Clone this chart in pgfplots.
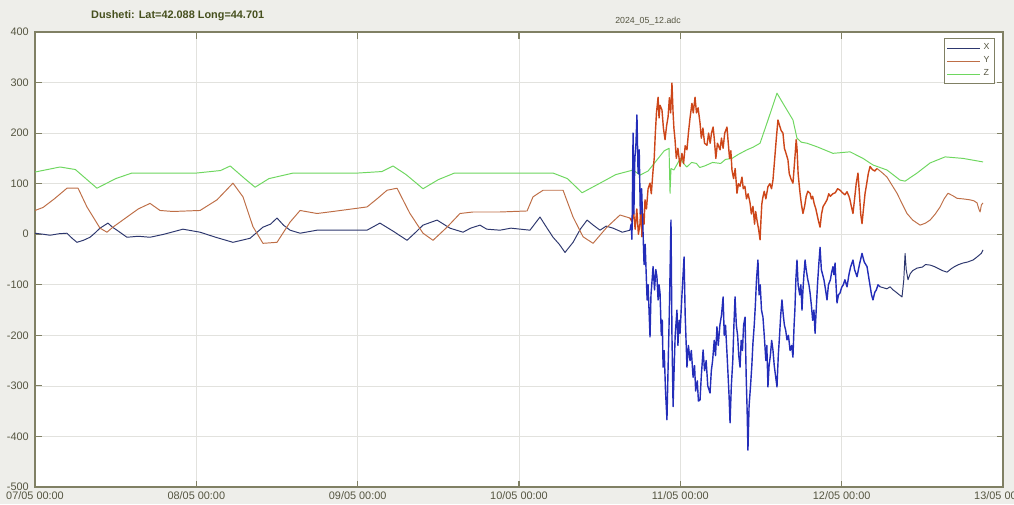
\documentclass[border=0pt]{standalone}
\usepackage{pgfplots}
\pgfplotsset{compat=1.18}
\usepackage{fontspec}
\setmainfont{Liberation Sans}
\definecolor{bgc}{RGB}{238,238,234}
\definecolor{axc}{RGB}{128,128,100}
\definecolor{txc}{RGB}{85,85,65}
\definecolor{gridc}{RGB}{226,226,222}
\definecolor{cx}{RGB}{45,55,110}
\definecolor{cxs}{RGB}{35,45,185}
\definecolor{cy}{RGB}{190,110,70}
\definecolor{cys}{RGB}{205,70,25}
\definecolor{cz}{RGB}{110,215,95}
\begin{document}
\begin{tikzpicture}[x=1mm,y=1mm]
\fill[bgc] (0,0) rectangle (202.8,100.8);
\path[use as bounding box] (0,0) rectangle (202.8,100.8);
\begin{axis}[at={(7mm,3.4mm)}, anchor=south west, scale only axis,
  width=193.6mm, height=91mm,
  xmin=0, xmax=6, ymin=-500, ymax=400,
  xtick={0,1,2,3,4,5,6},
  xticklabels={07/05 00:00,08/05 00:00,09/05 00:00,10/05 00:00,11/05 00:00,12/05 00:00,13/05 00:00},
  ytick={-500,-400,-300,-200,-100,0,100,200,300,400},
  axis background/.style={fill=white},
  axis line style={axc, line width=0.8pt},
  tick style={axc, line width=0.6pt},
  tick align=inside, major tick length=1.3mm,
  grid=major, major grid style={gridc, line width=0.4pt},
  tick label style={font=\fontsize{6.2}{7}\selectfont, text=txc},
  /pgf/number format/assume math mode=true,
  xticklabel style={yshift=0.3mm},
  legend style={at={(0.992,0.987)}, anchor=north east, draw=axc, line width=0.6pt, fill=white,
    font=\fontsize{5}{5.5}\selectfont, text=txc, inner sep=1pt, row sep=-1.5pt},
  legend cell align=left,
  legend image code/.code={\draw[#1, line width=0.6pt] (0mm,0mm) -- (6.5mm,0mm);},
  every axis plot/.append style={line width=0.55pt, line join=round},
]
% X, quiet part
\addplot[cx] coordinates {
(0,2) (0.05,0) (0.093,-2) (0.15,1) (0.198,2) (0.23,-8) (0.26,-16) (0.30,-12) (0.341,-6) (0.37,2) (0.403,12) (0.452,22) (0.48,14) (0.508,8) (0.570,-6) (0.64,-4) (0.713,-6) (0.80,0) (0.917,10) (1.023,4) (1.12,-6) (1.227,-16) (1.333,-8) (1.413,14) (1.46,20) (1.5,32) (1.54,18) (1.581,8) (1.643,2) (1.748,8) (1.90,8) (2.058,8) (2.138,22) (2.22,6) (2.306,-12) (2.36,4) (2.405,18) (2.492,28) (2.572,12) (2.653,4) (2.70,12) (2.758,18) (2.80,10) (2.882,8) (2.95,12) (3.068,8) (3.13,34) (3.17,14) (3.211,-6) (3.25,-20) (3.285,-36) (3.335,-16) (3.38,10) (3.422,28) (3.46,18) (3.502,8) (3.54,16) (3.583,12) (3.64,4) (3.688,8)
};
\addlegendentry{X}
% Y, quiet part
\addplot[cy] coordinates {
(0,47) (0.05,53) (0.12,70) (0.198,91) (0.267,91) (0.322,54) (0.403,12) (0.446,4) (0.483,14) (0.570,34) (0.64,50) (0.713,61) (0.775,47) (0.855,45) (1.023,47) (1.128,68) (1.227,101) (1.289,74) (1.351,15) (1.413,-18) (1.5,-16) (1.581,24) (1.643,47) (1.748,41) (1.847,45) (2.058,54) (2.12,70) (2.182,87) (2.244,91) (2.324,41) (2.405,2) (2.467,-12) (2.554,14) (2.634,41) (2.715,44) (2.882,44) (3.05,46) (3.087,74) (3.149,87) (3.273,87) (3.335,34) (3.397,-5) (3.459,-18) (3.545,14) (3.626,38) (3.688,32)
};
\addlegendentry{Y}
\addplot[cz] coordinates {
(0,123) (0.155,133) (0.25,128) (0.384,91) (0.5,110) (0.6,121) (1.0,121) (1.15,126) (1.21,135) (1.3,110) (1.364,93) (1.45,110) (1.6,121) (2.0,121) (2.15,124) (2.219,135) (2.3,118) (2.405,90) (2.5,108) (2.6,121) (3.0,121) (3.211,121) (3.3,110) (3.391,82) (3.502,101) (3.6,118) (3.707,127) (3.75,117) (3.80,125) (3.85,145) (3.90,165) (3.93,170) (3.936,81) (3.942,130) (3.96,127) (4.0,150) (4.02,140) (4.04,133) (4.07,142) (4.10,140) (4.12,132) (4.15,135) (4.2,142) (4.25,140) (4.28,148) (4.32,150) (4.36,158) (4.413,167) (4.45,172) (4.494,180) (4.537,220) (4.599,279) (4.636,259) (4.698,226) (4.723,190) (4.75,182) (4.785,180) (4.847,173) (4.946,160) (5.052,163) (5.132,150) (5.194,137) (5.281,127) (5.362,107) (5.393,105) (5.467,121) (5.548,141) (5.641,153) (5.752,150) (5.876,143)
};
\addlegendentry{Z}
% Y, storm part
\addplot[cys, forget plot, line width=0.8pt] coordinates {
(3.688,32) (3.70,25) (3.71,45) (3.72,10) (3.73,50) (3.74,0) (3.75,21) (3.755,60) (3.762,-5) (3.769,40) (3.775,20) (3.781,68) (3.79,50) (3.80,90) (3.812,101) (3.82,80) (3.831,127) (3.838,150) (3.845,200) (3.852,240) (3.862,271) (3.868,230) (3.874,255) (3.886,246) (3.895,210) (3.905,187) (3.915,215) (3.924,232) (3.932,270) (3.94,240) (3.948,299) (3.955,240) (3.96,210) (3.967,187) (3.975,150) (3.985,170) (3.998,134) (4.01,160) (4.02,140) (4.03,175) (4.041,167) (4.05,200) (4.06,230) (4.072,259) (4.08,240) (4.091,271) (4.10,240) (4.11,250) (4.122,220) (4.13,190) (4.14,210) (4.15,180) (4.165,176) (4.175,200) (4.185,180) (4.193,200) (4.203,212) (4.21,190) (4.22,150) (4.23,180) (4.246,167) (4.255,190) (4.265,170) (4.275,200) (4.289,212) (4.297,180) (4.305,150) (4.313,165) (4.320,127) (4.33,110) (4.34,130) (4.351,81) (4.36,100) (4.37,95) (4.382,113) (4.39,90) (4.40,95) (4.41,70) (4.42,80) (4.432,62) (4.44,40) (4.45,55) (4.46,20) (4.467,45) (4.475,28) (4.485,10) (4.494,-11) (4.5,30) (4.505,60) (4.512,74) (4.52,85) (4.53,70) (4.543,94) (4.555,100) (4.565,90) (4.574,107) (4.585,150) (4.595,190) (4.605,226) (4.615,215) (4.625,205) (4.636,200) (4.645,170) (4.655,160) (4.667,147) (4.675,120) (4.685,110) (4.698,101) (4.705,130) (4.712,160) (4.718,187) (4.723,170) (4.73,120) (4.736,100) (4.742,81) (4.75,60) (4.760,41) (4.77,55) (4.78,75) (4.79,85) (4.804,81) (4.812,70) (4.82,75) (4.83,60) (4.84,50) (4.85,35) (4.857,25) (4.866,14) (4.875,40) (4.885,55) (4.895,60) (4.909,68) (4.92,80) (4.93,75) (4.945,80) (4.96,82) (4.975,90) (4.99,87) (5.005,82) (5.02,78) (5.033,84) (5.045,75) (5.05,70) (5.06,55) (5.070,41) (5.08,70) (5.09,100) (5.101,121) (5.11,80) (5.118,40) (5.126,21) (5.135,50) (5.145,81) (5.155,100) (5.165,120) (5.176,134) (5.19,128) (5.205,125) (5.219,130)
};
\addplot[cy, forget plot] coordinates {
(5.219,130) (5.25,122) (5.281,113) (5.31,98) (5.343,81) (5.375,60) (5.405,41) (5.44,28) (5.486,18) (5.52,22) (5.548,28) (5.58,40) (5.610,54) (5.635,70) (5.659,81) (5.69,76) (5.715,71) (5.75,70) (5.796,68) (5.82,66) (5.839,62) (5.85,50) (5.858,44) (5.866,58) (5.876,62)
};
% X, storm part
\addplot[cxs, forget plot, line width=0.8pt] coordinates {
(3.688,8) (3.695,20) (3.70,-10) (3.707,200) (3.712,40) (3.718,150) (3.725,180) (3.731,236) (3.738,120) (3.745,167) (3.752,40) (3.76,90) (3.769,2) (3.775,-60) (3.782,-20) (3.794,-130) (3.80,-100) (3.812,-203) (3.818,-120) (3.825,-90) (3.831,-64) (3.84,-110) (3.848,-70) (3.855,-84) (3.862,-130) (3.868,-100) (3.874,-116) (3.882,-200) (3.888,-170) (3.893,-263) (3.90,-230) (3.908,-310) (3.917,-367) (3.925,-250) (3.932,-150) (3.942,28) (3.948,-200) (3.955,-341) (3.962,-260) (3.968,-200) (3.979,-150) (3.985,-220) (3.992,-170) (3.998,-196) (4.01,-120) (4.023,-45) (4.03,-160) (4.041,-263) (4.05,-220) (4.06,-250) (4.068,-230) (4.079,-283) (4.088,-260) (4.095,-310) (4.105,-290) (4.112,-330) (4.122,-328) (4.13,-280) (4.141,-229) (4.15,-270) (4.16,-250) (4.17,-300) (4.184,-314) (4.192,-270) (4.20,-250) (4.21,-210) (4.218,-240) (4.227,-183) (4.235,-220) (4.245,-180) (4.255,-160) (4.265,-124) (4.272,-200) (4.28,-180) (4.289,-235) (4.296,-280) (4.302,-320) (4.308,-373) (4.316,-300) (4.325,-250) (4.332,-180) (4.339,-124) (4.347,-180) (4.355,-200) (4.362,-240) (4.370,-263) (4.377,-210) (4.385,-230) (4.392,-180) (4.401,-164) (4.408,-280) (4.414,-350) (4.419,-427) (4.426,-340) (4.435,-300) (4.443,-260) (4.450,-215) (4.458,-180) (4.465,-140) (4.472,-90) (4.481,-51) (4.488,-120) (4.495,-100) (4.503,-150) (4.512,-164) (4.52,-200) (4.53,-250) (4.536,-220) (4.543,-302) (4.55,-260) (4.558,-240) (4.566,-210) (4.574,-229) (4.582,-260) (4.59,-280) (4.599,-302) (4.607,-240) (4.615,-200) (4.622,-160) (4.630,-130) (4.638,-160) (4.645,-180) (4.653,-190) (4.661,-209) (4.67,-200) (4.68,-230) (4.69,-220) (4.698,-243) (4.705,-180) (4.71,-150) (4.716,-90) (4.723,-51) (4.73,-100) (4.74,-120) (4.747,-100) (4.754,-150) (4.76,-110) (4.766,-80) (4.773,-51) (4.78,-70) (4.79,-90) (4.797,-100) (4.804,-116) (4.812,-140) (4.82,-170) (4.828,-150) (4.835,-196) (4.842,-150) (4.85,-100) (4.858,-60) (4.866,-26) (4.874,-70) (4.882,-80) (4.89,-90) (4.90,-110) (4.909,-130) (4.918,-100) (4.93,-90) (4.938,-75) (4.946,-64) (4.952,-80) (4.959,-57) (4.965,-100) (4.971,-136) (4.98,-120) (4.99,-116) (5.0,-105) (5.01,-100) (5.02,-90) (5.033,-104) (5.045,-80) (5.055,-65) (5.070,-51) (5.08,-70) (5.095,-84) (5.11,-60) (5.126,-38) (5.14,-55) (5.157,-64) (5.175,-100) (5.185,-120) (5.194,-130) (5.205,-115) (5.215,-110) (5.225,-100) (5.238,-104)
};
\addplot[cx, forget plot] coordinates {
(5.238,-104) (5.26,-106) (5.28,-108) (5.30,-104) (5.318,-110) (5.335,-114) (5.35,-118) (5.374,-124) (5.385,-90) (5.393,-38) (5.40,-70) (5.411,-90) (5.425,-78) (5.44,-72) (5.467,-67) (5.50,-65) (5.52,-60) (5.548,-61) (5.575,-64) (5.60,-68) (5.625,-72) (5.653,-75) (5.68,-68) (5.70,-64) (5.725,-60) (5.752,-57) (5.78,-55) (5.814,-51) (5.835,-46) (5.85,-42) (5.865,-38) (5.876,-31)
};
\end{axis}
\node[anchor=west, font=\bfseries\fontsize{6.2}{7}\selectfont, text={rgb,255:red,70;green,80;blue,30}] at (17,97.6) {Dusheti: Lat=42.088 Long=44.701};
\node[font=\fontsize{5}{6}\selectfont, text=txc] at (129.6,96.6) {2024\_05\_12.adc};
\end{tikzpicture}
\end{document}
